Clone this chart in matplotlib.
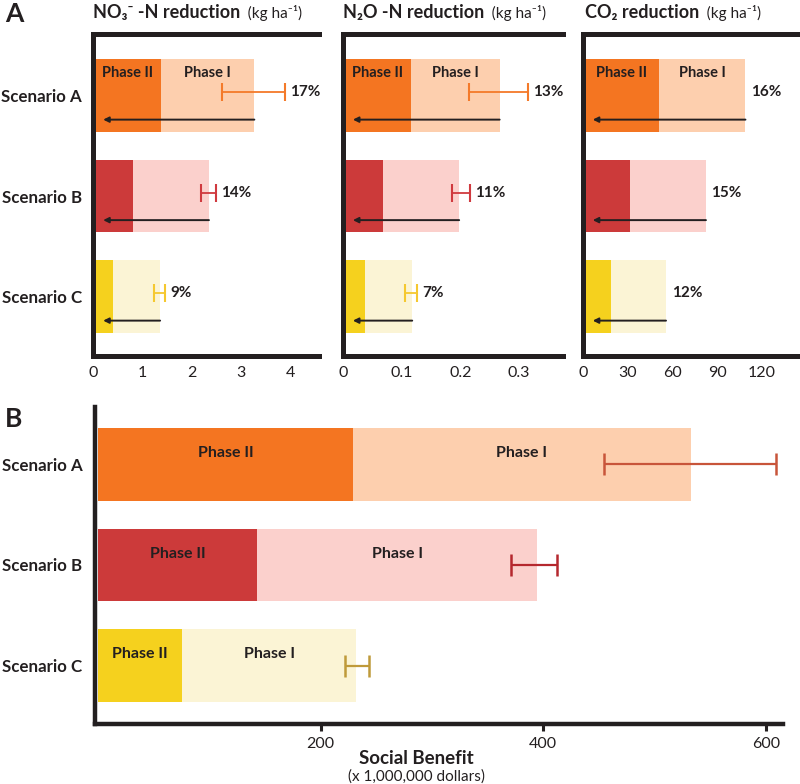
import matplotlib
matplotlib.use('Agg')
import matplotlib.pyplot as plt

plt.rcParams['font.family'] = ['Lato', 'DejaVu Sans']
dark = '#231f20'

# ---------------------------------------------------------------- data
scenarios = ['Scenario A', 'Scenario B', 'Scenario C']

no3_phase2 = [1.38, 0.81, 0.41]
no3_total = [3.27, 2.35, 1.36]
no3_err_lo = [2.62, 2.19, 1.24]
no3_err_hi = [3.89, 2.49, 1.46]
no3_pct = ['17%', '14%', '9%']

n2o_phase2 = [0.116, 0.068, 0.037]
n2o_total = [0.267, 0.198, 0.118]
n2o_err_lo = [0.215, 0.186, 0.106]
n2o_err_hi = [0.315, 0.216, 0.126]
n2o_pct = ['13%', '11%', '7%']

co2_phase2 = [51, 31.5, 18.8]
co2_total = [109, 82.5, 55.7]
co2_pct = ['16%', '15%', '12%']

benefit_phase2 = [229, 142.7, 75]
benefit_total = [532.8, 394.4, 232]
benefit_err_lo = [454.6, 371, 222]
benefit_err_hi = [609, 412.4, 243.5]

# ---------------------------------------------------------------- styles
phase2_colors = ['#f47521', '#cc3a3a', '#f5d11e']
phase1_colors = ['#fdcfae', '#fbd0cc', '#fbf4d5']
err_colors_top = ['#f47a2a', '#d03a3f', '#f5c830']
err_colors_bot = ['#c8553a', '#b5282e', '#bf9a3a']

W, H = 800, 784
fig = plt.figure(figsize=(W / 100, H / 100), dpi=100)


def px_axes(x0, x1, y0, y1):
    # axes placed in pixel coordinates (top-left origin)
    return fig.add_axes([x0 / W, 1 - y1 / H, (x1 - x0) / W, (y1 - y0) / H])


def style_spines(ax, top, lw):
    for s in ['left', 'bottom']:
        ax.spines[s].set_linewidth(lw)
        ax.spines[s].set_color(dark)
    ax.spines['right'].set_visible(False)
    ax.spines['top'].set_visible(top)
    ax.spines['top'].set_linewidth(lw)
    ax.spines['top'].set_color(dark)


y = [0, 1, 2]
bar_h = 0.726


def top_panel(x0, x1, xmax, phase2, total, err_lo, err_hi, pct, ticks,
              ticklabels, show_names, title, tx):
    ax = px_axes(x0, x1, 34, 356)
    phase1 = [t - p for t, p in zip(total, phase2)]
    ax.barh(y, phase2, height=bar_h, color=phase2_colors, zorder=2)
    ax.barh(y, phase1, left=phase2, height=bar_h, color=phase1_colors, zorder=2)
    ax.set_xlim(0, xmax)
    ax.set_ylim(2.592, -0.612)
    style_spines(ax, True, 3.6)
    ax.set_xticks(ticks)
    ax.set_xticklabels(ticklabels)
    ax.tick_params(axis='x', length=0, pad=7, labelsize=11.5, labelcolor=dark)
    ax.set_yticks(y)
    if show_names:
        ax.set_yticklabels(scenarios, fontsize=12.2, fontweight='bold', color=dark)
        ax.tick_params(axis='y', length=0, pad=8)
    else:
        ax.set_yticklabels([])
        ax.tick_params(axis='y', length=0)

    tip = xmax * 0.045
    for i in range(3):
        ax.annotate('', xy=(tip, i + 0.24), xytext=(total[i], i + 0.24),
                    arrowprops=dict(arrowstyle='-|>', lw=1.4, color=dark,
                                    mutation_scale=8, shrinkA=0, shrinkB=0),
                    zorder=4)
        if err_lo is not None:
            mid = (err_lo[i] + err_hi[i]) / 2
            ax.errorbar(mid, i - 0.03, xerr=[[mid - err_lo[i]], [err_hi[i] - mid]],
                        fmt='none', ecolor=err_colors_top[i], elinewidth=1.3,
                        capsize=6.5, capthick=1.5, zorder=4)
            xl = err_hi[i]
        else:
            xl = total[i]
        ax.annotate(pct[i], xy=(xl, i - 0.03), xytext=(4, 0),
                    textcoords='offset points', va='center', ha='left',
                    fontsize=11, fontweight='bold', color=dark)
    ax.text(phase2[0] / 2, -0.22, 'Phase II', ha='center', va='center',
            fontsize=10.5, fontweight='bold', color=dark, zorder=3)
    ax.text(phase2[0] + (total[0] - phase2[0]) / 2, -0.22, 'Phase I',
            ha='center', va='center', fontsize=10.5, fontweight='bold',
            color=dark, zorder=3)

    t = fig.text(tx / W, 1 - 13 / H, title, ha='left', va='center',
                 fontsize=13, fontweight='bold', color=dark)
    ax.annotate('  (kg ha\u207b\u00b9)', xy=(1, 0.5), xycoords=t, va='center',
                ha='left', fontsize=11, color=dark, annotation_clip=False)
    return ax


top_panel(93, 319, 4.58, no3_phase2, no3_total, no3_err_lo, no3_err_hi,
          no3_pct, [0, 1, 2, 3, 4], ['0', '1', '2', '3', '4'], True,
          'NO\u2083\u207b -N reduction', 93)
top_panel(343, 563, 0.375, n2o_phase2, n2o_total, n2o_err_lo, n2o_err_hi,
          n2o_pct, [0, 0.1, 0.2, 0.3], ['0', '0.1', '0.2', '0.3'], False,
          'N\u2082O -N reduction', 343)
top_panel(583, 800, 145.6, co2_phase2, co2_total, None, None,
          co2_pct, [0, 30, 60, 90, 120], ['0', '30', '60', '90', '120'], False,
          'CO\u2082 reduction', 585)

fig.text(14 / W, 1 - 14 / H, 'A', ha='center', va='center', fontsize=19,
         fontweight='bold', color=dark)

# ---------------------------------------------------------------- panel B
axb = px_axes(95, 783, 407, 724)
phase1 = [t - p for t, p in zip(benefit_total, benefit_phase2)]
axb.barh(y, benefit_phase2, height=bar_h, color=phase2_colors, zorder=2)
axb.barh(y, phase1, left=benefit_phase2, height=bar_h, color=phase1_colors, zorder=2)
axb.set_xlim(-2.9, 615.5)
axb.set_ylim(2.582, -0.572)
style_spines(axb, False, 3.2)
axb.set_xticks([200, 400, 600])
axb.tick_params(axis='x', direction='out', length=5, width=2.2, color=dark,
                pad=4, labelsize=11.5, labelcolor=dark)
axb.set_yticks(y)
axb.set_yticklabels(scenarios, fontsize=12.2, fontweight='bold', color=dark)
axb.tick_params(axis='y', length=0, pad=9)

for i in range(3):
    mid = (benefit_err_lo[i] + benefit_err_hi[i]) / 2
    axb.errorbar(mid, i + 0.0, xerr=[[mid - benefit_err_lo[i]], [benefit_err_hi[i] - mid]],
                 fmt='none', ecolor=err_colors_bot[i], elinewidth=1.6,
                 capsize=8, capthick=1.8, zorder=4)
    axb.text(benefit_phase2[i] / 2, i - 0.11, 'Phase II', ha='center',
             va='center', fontsize=11.5, fontweight='bold', color=dark, zorder=3)
    axb.text(benefit_phase2[i] + phase1[i] / 2, i - 0.11, 'Phase I', ha='center',
             va='center', fontsize=11.5, fontweight='bold', color=dark, zorder=3)

fig.text(416 / W, 1 - 758 / H, 'Social Benefit', ha='center', va='center',
         fontsize=13.5, fontweight='bold', color=dark)
fig.text(416 / W, 1 - 777 / H, '(x 1,000,000 dollars)', ha='center',
         va='center', fontsize=11, color=dark)
fig.text(14 / W, 1 - 419 / H, 'B', ha='center', va='center', fontsize=19,
         fontweight='bold', color=dark)

fig.savefig('out.png', dpi=100)
